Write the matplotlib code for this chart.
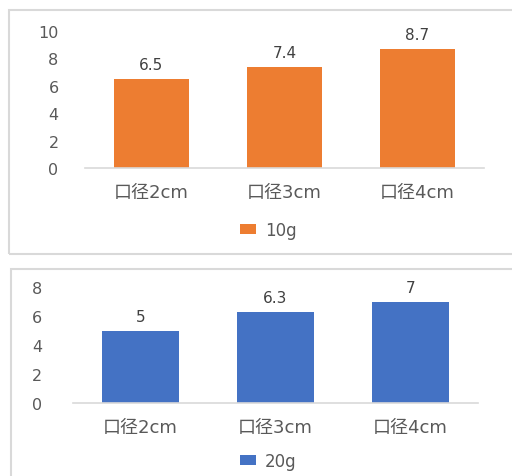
import matplotlib.pyplot as plt
from matplotlib.patches import Rectangle

plt.rcParams['font.family'] = ['DejaVu Sans', 'Noto Sans CJK SC']

categories = ['口径2cm', '口径3cm', '口径4cm']
vals_10g = [6.5, 7.4, 8.7]
vals_20g = [5, 6.3, 7]
yticks_10g = [0, 2, 4, 6, 8, 10]
yticks_20g = [0, 2, 4, 6, 8]

orange = '#ED7D31'
blue = '#4472C4'
grey_text = '#595959'
grey_line = '#D9D9D9'

W, H = 512, 477
fig = plt.figure(figsize=(W / 100, H / 100), dpi=100)
fig.patch.set_facecolor('white')


def px_axes(x0, x1, y_top, y_bot):
    # axes rectangle given in pixel coordinates measured from the top-left
    return fig.add_axes([x0 / W, (H - y_bot) / H, (x1 - x0) / W, (y_bot - y_top) / H])


def draw_panel(ax, values, yticks, color, label, tick_pad, leg_xy):
    x = range(len(categories))
    bars = ax.bar(x, values, width=0.57, color=color, label=label)
    ax.bar_label(bars, labels=[f'{v:g}' for v in values], padding=5,
                 color='#404040', fontsize=11)
    ax.set_xlim(-0.5, len(categories) - 0.5)
    ax.set_ylim(yticks[0], yticks[-1])
    ax.set_yticks(yticks)
    ax.set_xticks(list(x))
    ax.set_xticklabels(categories, fontsize=13, color=grey_text)
    ax.tick_params(axis='y', length=0, pad=tick_pad, labelsize=11.5, labelcolor=grey_text)
    ax.tick_params(axis='x', length=0, pad=11)
    for side in ['top', 'right', 'left']:
        ax.spines[side].set_visible(False)
    ax.spines['bottom'].set_color(grey_line)
    ax.spines['bottom'].set_linewidth(1.2)
    ax.legend(loc='center', bbox_to_anchor=(leg_xy[0] / W, 1 - leg_xy[1] / H),
              bbox_transform=fig.transFigure, frameon=False, fontsize=12,
              handlelength=1.0, handleheight=0.5, handletextpad=0.5,
              labelcolor=grey_text)


# panel outlines
fig.patches.append(Rectangle((9 / W, 1 - 255 / H), 1.0, (255 - 11) / H,
                             transform=fig.transFigure, fill=False,
                             edgecolor=grey_line, linewidth=1.5))
fig.patches.append(Rectangle((11 / W, -0.1), 1.0, 0.1 + (H - 270) / H,
                             transform=fig.transFigure, fill=False,
                             edgecolor=grey_line, linewidth=1.5))

ax1 = px_axes(85, 484, 32, 169)
draw_panel(ax1, vals_10g, yticks_10g, orange, '10g', 19, (268, 231))

ax2 = px_axes(73, 478, 288, 404)
draw_panel(ax2, vals_20g, yticks_20g, blue, '20g', 22, (268, 462))

fig.savefig('out.png', dpi=100, facecolor='white')
